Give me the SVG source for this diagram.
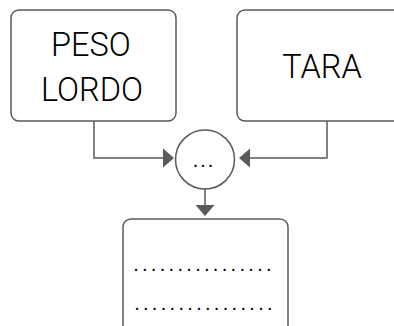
<svg xmlns="http://www.w3.org/2000/svg" width="394" height="326" viewBox="0 0 394 326">
<defs>
<style>
.box{fill:#fff;stroke:#5a5a5a;stroke-width:1.5}
.edge{fill:none;stroke:#5a5a5a;stroke-width:1.5}
.head{fill:#5a5a5a}
.lbl{font-family:Roboto,"Liberation Sans",Arial,sans-serif;font-weight:300;font-size:32.5px;fill:#000;text-anchor:middle}
.dots{font-family:"Liberation Sans",Arial,sans-serif;font-size:20px;fill:#000;text-anchor:middle}
</style>
</defs>
<rect width="394" height="326" fill="#fff"/>
<g id="edges">
<path class="edge" d="M94,121 V158 H165"/>
<path class="head" d="M163,148.5 L174,158 L163,167.5 Z"/>
<path class="edge" d="M327,121 V158 H248"/>
<path class="head" d="M250,148.5 L239,158 L250,167.5 Z"/>
<path class="edge" d="M205,189 V206"/>
<path class="head" d="M195.5,205 L205,216 L214.5,205 Z"/>
</g>
<g id="peso-lordo">
<rect class="box" x="11" y="10" width="165" height="111" rx="8"/>
<text class="lbl" x="91" y="55.5">PESO</text>
<text class="lbl" x="92" y="100.5">LORDO</text>
</g>
<g id="tara">
<rect class="box" x="237" y="10" width="170" height="111" rx="8"/>
<text class="lbl" x="322" y="78">TARA</text>
</g>
<g id="op">
<circle class="box" cx="205" cy="159.5" r="29.5"/>
<text class="dots" x="204" y="167" letter-spacing="2">...</text>
</g>
<g id="result">
<rect class="box" x="123" y="219" width="165" height="120" rx="8"/>
<text class="dots" x="204" y="271" letter-spacing="3.3">................</text>
<text class="dots" x="205" y="310" letter-spacing="3.3">................</text>
</g>
</svg>
